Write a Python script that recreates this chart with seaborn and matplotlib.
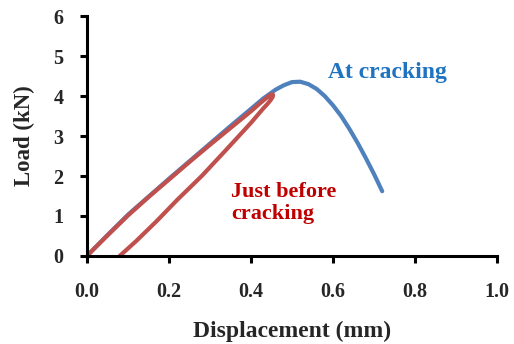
import matplotlib
matplotlib.use("Agg")
import matplotlib.pyplot as plt
import seaborn as sns
import pandas as pd

# Data
blue_x = [0.0, 0.05, 0.10, 0.15, 0.20, 0.25, 0.30, 0.35, 0.40, 0.43, 0.46, 0.48, 0.50, 0.52, 0.54, 0.56, 0.58, 0.60, 0.62, 0.64, 0.66, 0.68, 0.70, 0.72]
blue_y = [0.0, 0.52, 1.03, 1.48, 1.93, 2.37, 2.81, 3.25, 3.68, 3.94, 4.16, 4.27, 4.35, 4.36, 4.30, 4.18, 4.00, 3.77, 3.50, 3.18, 2.83, 2.45, 2.05, 1.62]

red_x = [0.0, 0.05, 0.10, 0.15, 0.20, 0.25, 0.30, 0.35, 0.40, 0.42, 0.435, 0.445, 0.451, 0.454, 0.453, 0.448, 0.44, 0.43, 0.40, 0.34, 0.28, 0.22, 0.17, 0.12, 0.08]
red_y = [0.0, 0.51, 1.01, 1.47, 1.91, 2.35, 2.78, 3.20, 3.62, 3.80, 3.93, 4.01, 4.05, 4.03, 3.98, 3.90, 3.80, 3.69, 3.33, 2.66, 2.00, 1.40, 0.87, 0.37, 0.0]

x_ticks = [0.0, 0.2, 0.4, 0.6, 0.8, 1.0]
y_ticks = [0, 1, 2, 3, 4, 5, 6]

blue_label = "At cracking"
red_label = "Just before\ncracking"

sns.set_style("white")
plt.rcParams['font.family'] = ['Liberation Serif', 'DejaVu Serif']
plt.rcParams['font.weight'] = 'bold'

fig = plt.figure(figsize=(5.14, 3.44), dpi=100)
ax = fig.add_axes([0.169, 0.256, 0.798, 0.697])

df_b = pd.DataFrame({"x": blue_x, "y": blue_y})
df_r = pd.DataFrame({"x": red_x, "y": red_y})
sns.lineplot(data=df_b, x="x", y="y", sort=False, estimator=None, ax=ax, color="#4F81BD", lw=3.0,
             solid_capstyle='round', solid_joinstyle='round')
sns.lineplot(data=df_r, x="x", y="y", sort=False, estimator=None, ax=ax, color="#C0504D", lw=3.0,
             solid_capstyle='round', solid_joinstyle='round')

ax.set_xlim(0, 1.0)
ax.set_ylim(0, 6)
ax.set_xticks(x_ticks)
ax.set_yticks(y_ticks)
ax.set_xticklabels([f"{v:.1f}" for v in x_ticks], fontsize=14.5, fontweight='bold')
ax.set_yticklabels([str(v) for v in y_ticks], fontsize=14.5, fontweight='bold')
ax.tick_params(axis='both', direction='out', length=5, width=2.2, color='black', bottom=True, left=True)
ax.tick_params(axis='x', pad=14)
ax.tick_params(axis='y', pad=12)

for s in ['top', 'right']:
    ax.spines[s].set_visible(False)
for s in ['left', 'bottom']:
    ax.spines[s].set_linewidth(2.2)
    ax.spines[s].set_color('black')

ax.set_xlabel("Displacement (mm)", fontsize=17, fontweight='bold', labelpad=13)
ax.set_ylabel("Load (kN)", fontsize=16.5, fontweight='bold', labelpad=13)

ax.text(0.588, 4.6, blue_label, color="#1F73C1", fontsize=17, fontweight='bold', ha='left', va='center')
ax.text(0.351, 1.33, red_label, color="#C00000", fontsize=16, fontweight='bold', ha='left', va='center', linespacing=1.15)

fig.savefig("out.png", dpi=100)
